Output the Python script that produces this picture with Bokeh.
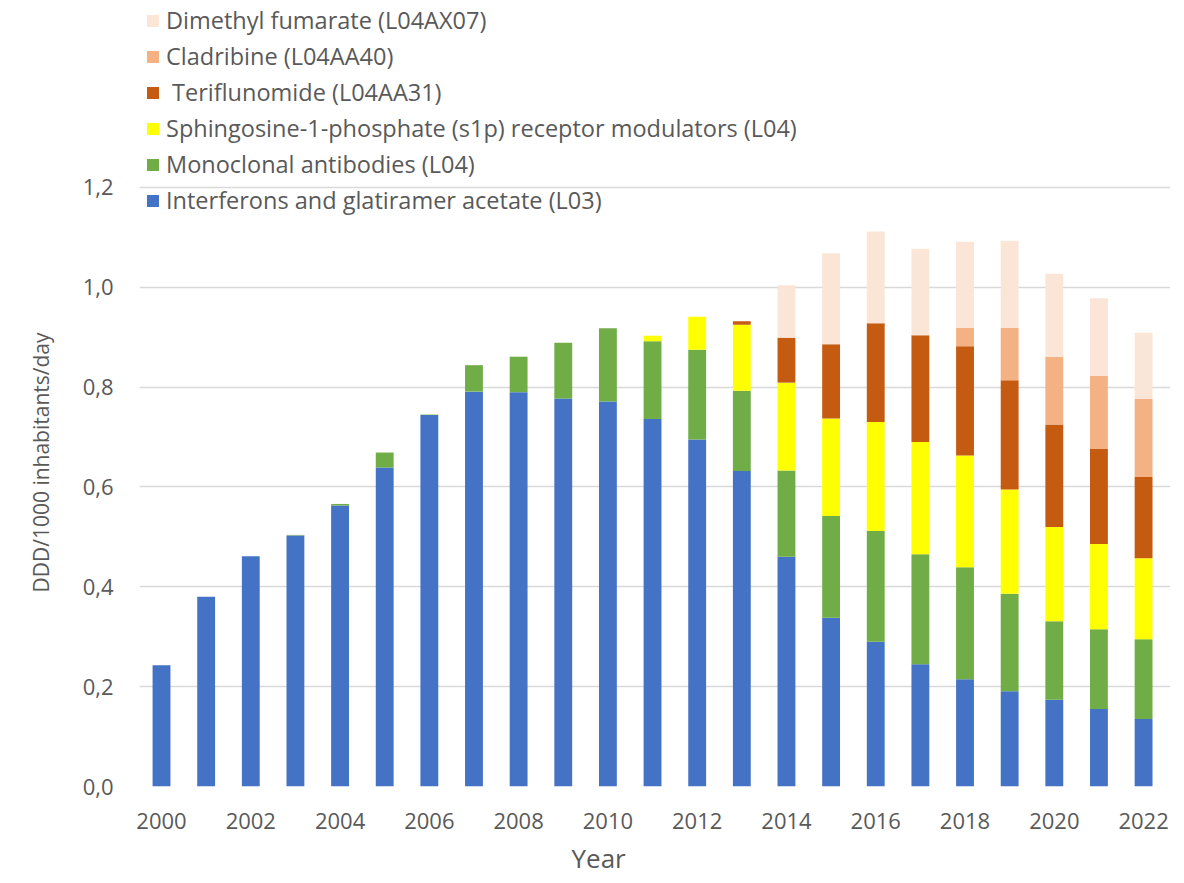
from bokeh.plotting import figure
from bokeh.models import (ColumnDataSource, Legend, LegendItem, FixedTicker,
                          CustomJSTickFormatter, Range1d, Title)
from bokeh.embed import file_html
from bokeh.resources import INLINE

years = list(range(2000, 2023))
interferons = [0.243, 0.380, 0.461, 0.503, 0.563, 0.639, 0.744, 0.791, 0.790, 0.777,
               0.771, 0.736, 0.695, 0.632, 0.460, 0.338, 0.290, 0.245, 0.215, 0.191,
               0.174, 0.155, 0.135]
monoclonal = [0.0, 0.0, 0.0, 0.001, 0.003, 0.030, 0.001, 0.053, 0.071, 0.112,
              0.147, 0.156, 0.180, 0.161, 0.173, 0.204, 0.222, 0.220, 0.224, 0.195,
              0.157, 0.160, 0.160]
s1p = [0.0, 0.0, 0.0, 0.0, 0.0, 0.0, 0.0, 0.0, 0.0, 0.0,
       0.0, 0.011, 0.066, 0.132, 0.176, 0.195, 0.218, 0.225, 0.224, 0.209,
       0.189, 0.171, 0.162]
teriflunomide = [0.0, 0.0, 0.0, 0.0, 0.0, 0.0, 0.0, 0.0, 0.0, 0.0,
                 0.0, 0.0, 0.0, 0.007, 0.090, 0.149, 0.198, 0.214, 0.219, 0.219,
                 0.205, 0.190, 0.163]
cladribine = [0.0, 0.0, 0.0, 0.0, 0.0, 0.0, 0.0, 0.0, 0.0, 0.0,
              0.0, 0.0, 0.0, 0.0, 0.0, 0.0, 0.0, 0.0, 0.037, 0.105,
              0.136, 0.147, 0.156]
dimethyl_fumarate = [0.0, 0.0, 0.0, 0.0, 0.0, 0.0, 0.0, 0.0, 0.0, 0.0,
                     0.0, 0.0, 0.0, 0.0, 0.105, 0.182, 0.184, 0.173, 0.172, 0.174,
                     0.166, 0.155, 0.133]

series_keys = ["interferons", "monoclonal", "s1p", "teriflunomide", "cladribine", "dmf"]
labels = ["Interferons and glatiramer acetate (L03)",
          "Monoclonal antibodies (L04)",
          "Sphingosine-1-phosphate (s1p) receptor modulators (L04)",
          " Teriflunomide (L04AA31)",
          "Cladribine (L04AA40)",
          "Dimethyl fumarate (L04AX07)"]
colors = ["#4472C4", "#70AD47", "#FFFF00", "#C55A11", "#F4B183", "#FBE5D6"]
y_ticks = [0.0, 0.2, 0.4, 0.6, 0.8, 1.0, 1.2]
x_ticks = years[::2]
x_title = "Year"
y_title = "DDD/1000 inhabitants/day"

src = ColumnDataSource(dict(year=years, interferons=interferons, monoclonal=monoclonal,
                            s1p=s1p, teriflunomide=teriflunomide, cladribine=cladribine,
                            dmf=dimethyl_fumarate))

FRAME_H = 786
PX_PER_UNIT = 499.2
X0, X1 = 1999.507, 2022.603
p = figure(width=1176, height=883, output_backend="svg", toolbar_location=None,
           x_range=Range1d(X0, X1), y_range=Range1d(0, FRAME_H / PX_PER_UNIT),
           min_border_left=139, min_border_right=6, min_border_top=0,
           min_border_bottom=883 - FRAME_H)
p.outline_line_color = None
p.background_fill_color = "white"

renderers = p.vbar_stack(series_keys, x="year", width=0.4, fill_color=colors,
                         line_color=None, source=src)

items = [LegendItem(label=lab, renderers=[r]) for lab, r in zip(labels, renderers)][::-1]
legend = Legend(items=items, location=(6, 570), padding=0, margin=0, spacing=4,
                label_height=32, glyph_height=15, glyph_width=15, label_standoff=6,
                label_text_font="Open Sans", label_text_font_size="23.5px",
                label_text_color="#595959", background_fill_alpha=0,
                border_line_color=None)
p.add_layout(legend, "center")

# axes
p.yaxis.ticker = FixedTicker(ticks=y_ticks)
p.yaxis.formatter = CustomJSTickFormatter(code="return tick.toFixed(1).replace('.', ',');")
p.xaxis.ticker = FixedTicker(ticks=x_ticks)
for ax in (p.xaxis[0], p.yaxis[0]):
    ax.axis_line_color = None
    ax.major_tick_line_color = None
    ax.minor_tick_line_color = None
    ax.major_tick_in = 0
    ax.major_tick_out = 0
    ax.major_label_text_font = "Open Sans"
    ax.major_label_text_font_size = "22px"
    ax.major_label_text_color = "#595959"
p.yaxis.major_label_standoff = 26
p.xaxis.major_label_standoff = 26

# axis titles, placed off-centre as in the reference
year_title = Title(text=x_title, align="left", offset=571 - 139, standoff=13,
                   text_font="Open Sans", text_font_size="26px",
                   text_font_style="normal", text_color="#595959")
p.add_layout(year_title, "below")
value_title = Title(text=y_title, align="left", offset=FRAME_H - 592, standoff=45,
                    vertical_align="top",
                    text_font="Open Sans", text_font_size="21px",
                    text_font_style="normal", text_color="#595959")
p.add_layout(value_title, "left")

p.xgrid.visible = False
p.ygrid.grid_line_color = "#d9d9d9"
p.ygrid.grid_line_width = 1.5

open("out.html", "w").write(file_html(p, INLINE))
